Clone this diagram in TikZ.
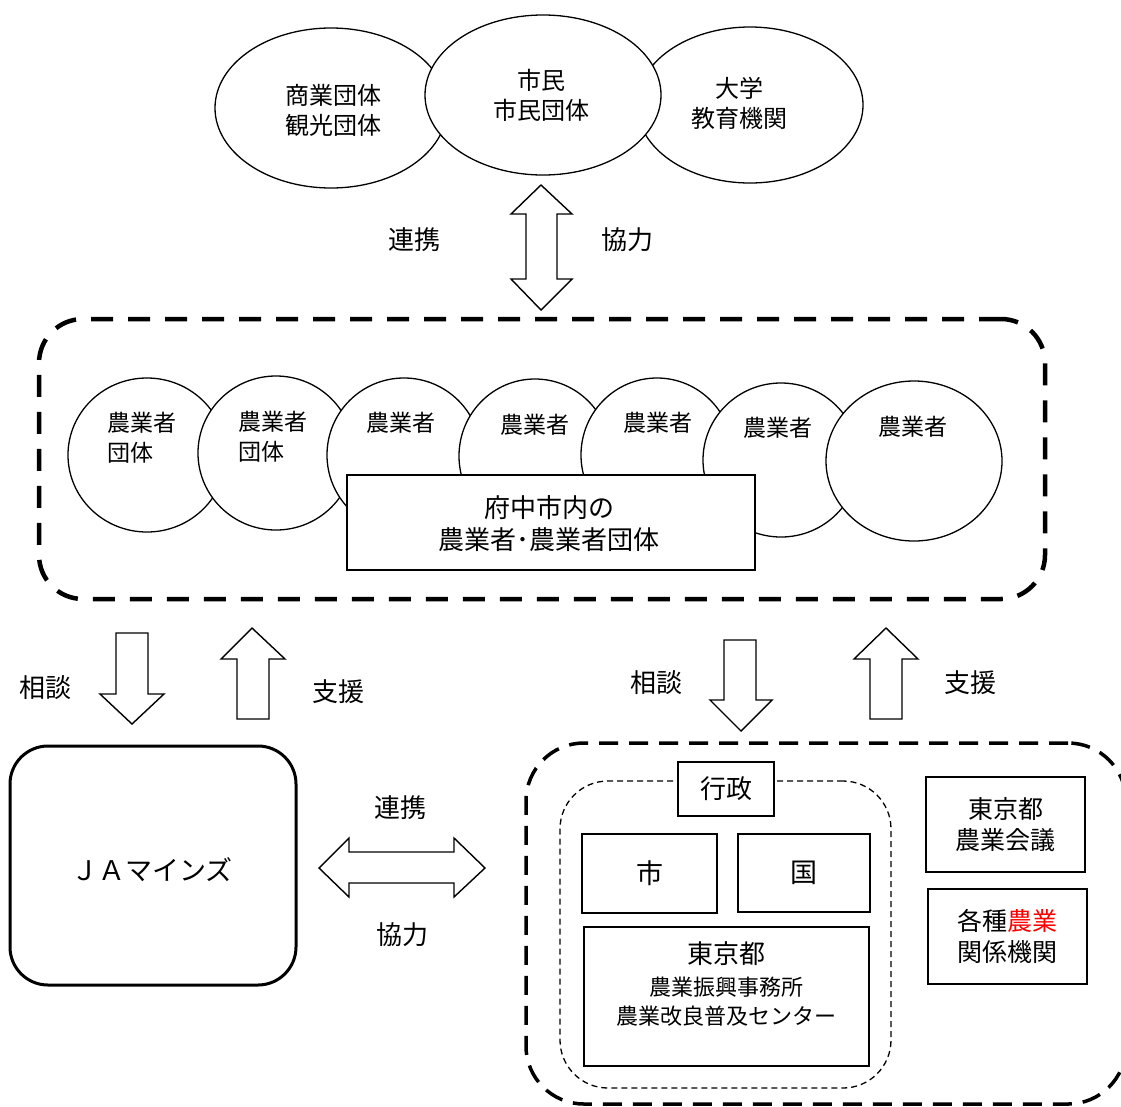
\documentclass[tikz,border=0pt]{standalone}
\usepackage{fontspec}
\setmainfont{Noto Sans CJK JP}
\usetikzlibrary{shapes.geometric}
\newcommand{\fsz}[1]{\fontsize{#1}{30}\selectfont}
\begin{document}
\begin{tikzpicture}[x=1pt,y=-1pt,
  ell/.style={ellipse, draw, fill=white, line width=1.3pt, inner sep=0pt},
  box/.style={rectangle, draw, fill=white, line width=1.6pt, inner sep=0pt},
  blk/.style={draw, fill=white, line width=1.4pt, line join=miter},
  txt/.style={inner sep=0pt, align=center},
  lab/.style={inner sep=0pt, font=\fsz{26}},
]
\useasboundingbox (0,0) rectangle (1121,1106);
\clip (0,0) rectangle (1121,1106);

% top ellipses
\node[ell, minimum width=232pt, minimum height=160pt] (eL) at (331,108) {};
\node[ell, minimum width=226pt, minimum height=156pt] (eR) at (750,105) {};
\node[ell, minimum width=236pt, minimum height=160pt] (eM) at (543,95) {};
\node[txt, font=\fsz{24}] (tL) at (333,110) {商業団体\\観光団体};
\node[txt, font=\fsz{24}] (tM) at (541,95) {市民\\市民団体};
\node[txt, font=\fsz{24}] (tR) at (739,103) {大学\\教育機関};

% double arrow top
\draw[blk] (541,185) -- (572,214) -- (557,214) -- (557,279) -- (572,279) -- (541,310)
  -- (511,279) -- (526,279) -- (526,214) -- (511,214) -- cycle;
\node[lab] (l1) at (414,240) {連携};
\node[lab] (l2) at (627,240) {協力};

% farmers group
\node[draw, line width=4.5pt, dash pattern=on 22pt off 15pt, rounded corners=44pt,
  minimum width=1006pt, minimum height=280pt, inner sep=0pt] (grp) at (542,459) {};
\node[ell, minimum width=158pt, minimum height=154pt] (f1) at (147,455) {};
\node[ell, minimum width=156pt, minimum height=154pt] (f2) at (276,453) {};
\node[ell, minimum width=154pt, minimum height=154pt] (f3) at (404,455) {};
\node[ell, minimum width=152pt, minimum height=154pt] (f4) at (535,456) {};
\node[ell, minimum width=152pt, minimum height=154pt] (f5) at (657,455) {};
\node[ell, minimum width=156pt, minimum height=154pt] (f6) at (781,460) {};
\node[ell, minimum width=176pt, minimum height=160pt] (f7) at (914,461) {};
\node[txt, align=left, anchor=west, font=\fsz{23}] (tf1) at (107,438) {農業者\\団体};
\node[txt, align=left, anchor=west, font=\fsz{23}] (tf2) at (238,437) {農業者\\団体};
\node[txt, font=\fsz{23}] (tf3) at (401,423) {農業者};
\node[txt, font=\fsz{23}] (tf4) at (535,425) {農業者};
\node[txt, font=\fsz{23}] (tf5) at (658,423) {農業者};
\node[txt, font=\fsz{23}] (tf6) at (778,428) {農業者};
\node[txt, font=\fsz{23}] (tf7) at (913,427) {農業者};
\node[box, minimum width=408pt, minimum height=95pt] (fch) at (551,522.5) {};
\node[txt, font=\fontsize{26}{32}\selectfont] (tfch) at (549,524) {府中市内の\\農業者･農業者団体};

% left arrows
\draw[blk] (116,633) -- (148,633) -- (148,694) -- (164,694) -- (132,724) -- (100,694) -- (116,694) -- cycle;
\draw[blk] (252,628) -- (285,659) -- (269,659) -- (269,719) -- (237,719) -- (237,659) -- (221,659) -- cycle;
\node[lab] (l3) at (45,688) {相談};
\node[lab] (l4) at (338,692) {支援};

% JA box
\node[draw, line width=3pt, rounded corners=38pt, minimum width=286pt, minimum height=239pt, inner sep=0pt] (ja) at (153,865.5) {};
\node[txt, font=\fsz{27}] (tja) at (152,870) {ＪＡマインズ};

% horizontal double arrow
\draw[blk] (319,868) -- (349,838) -- (349,852) -- (454,852) -- (454,838) -- (485,868)
  -- (454,897) -- (454,883) -- (349,883) -- (349,897) -- cycle;
\node[lab] (l5) at (400,808) {連携};
\node[lab] (l6) at (402,935) {協力};

% right arrows
\draw[blk] (724,640) -- (756,640) -- (756,700) -- (772,700) -- (741,731) -- (710,700) -- (724,700) -- cycle;
\draw[blk] (886,628) -- (918,659) -- (902,659) -- (902,719) -- (870,719) -- (870,659) -- (854,659) -- cycle;
\node[lab] (l7) at (656,683) {相談};
\node[lab] (l8) at (970,683) {支援};

% right group
\node[draw, line width=3.5pt, dash pattern=on 19pt off 11pt, rounded corners=58pt,
  minimum width=600pt, minimum height=361pt, inner sep=0pt] (gov) at (826,923.5) {};
\node[draw, line width=1.3pt, dash pattern=on 6pt off 4pt, rounded corners=48pt,
  minimum width=331pt, minimum height=307pt, inner sep=0pt] (adm) at (725.5,934.5) {};
\node[box, minimum width=96pt, minimum height=54pt, font=\fsz{26}] (gyo) at (726,789) {行政};
\node[box, minimum width=135pt, minimum height=79pt, font=\fsz{27}] (shi) at (649.5,873.5) {市};
\node[box, minimum width=132pt, minimum height=78pt, font=\fsz{27}] (kuni) at (804,873) {国};
\node[box, minimum width=285pt, minimum height=139pt] (tky) at (726.5,996.5) {};
\node[txt, font=\fsz{26}] (tk1) at (726,954) {東京都};
\node[txt, font=\fsz{22}] (tk2) at (726,987) {農業振興事務所};
\node[txt, font=\fsz{22}] (tk3) at (726,1016) {農業改良普及センター};
\node[box, minimum width=159pt, minimum height=95pt, align=center, font=\fontsize{25}{31}\selectfont] (kaigi) at (1005.5,824.5) {東京都\\農業会議};
\node[box, minimum width=159pt, minimum height=95pt, align=center, font=\fontsize{25}{31}\selectfont] (kikan) at (1007.5,936.5) {各種\textcolor{red}{農業}\\関係機関};
\end{tikzpicture}
\end{document}
